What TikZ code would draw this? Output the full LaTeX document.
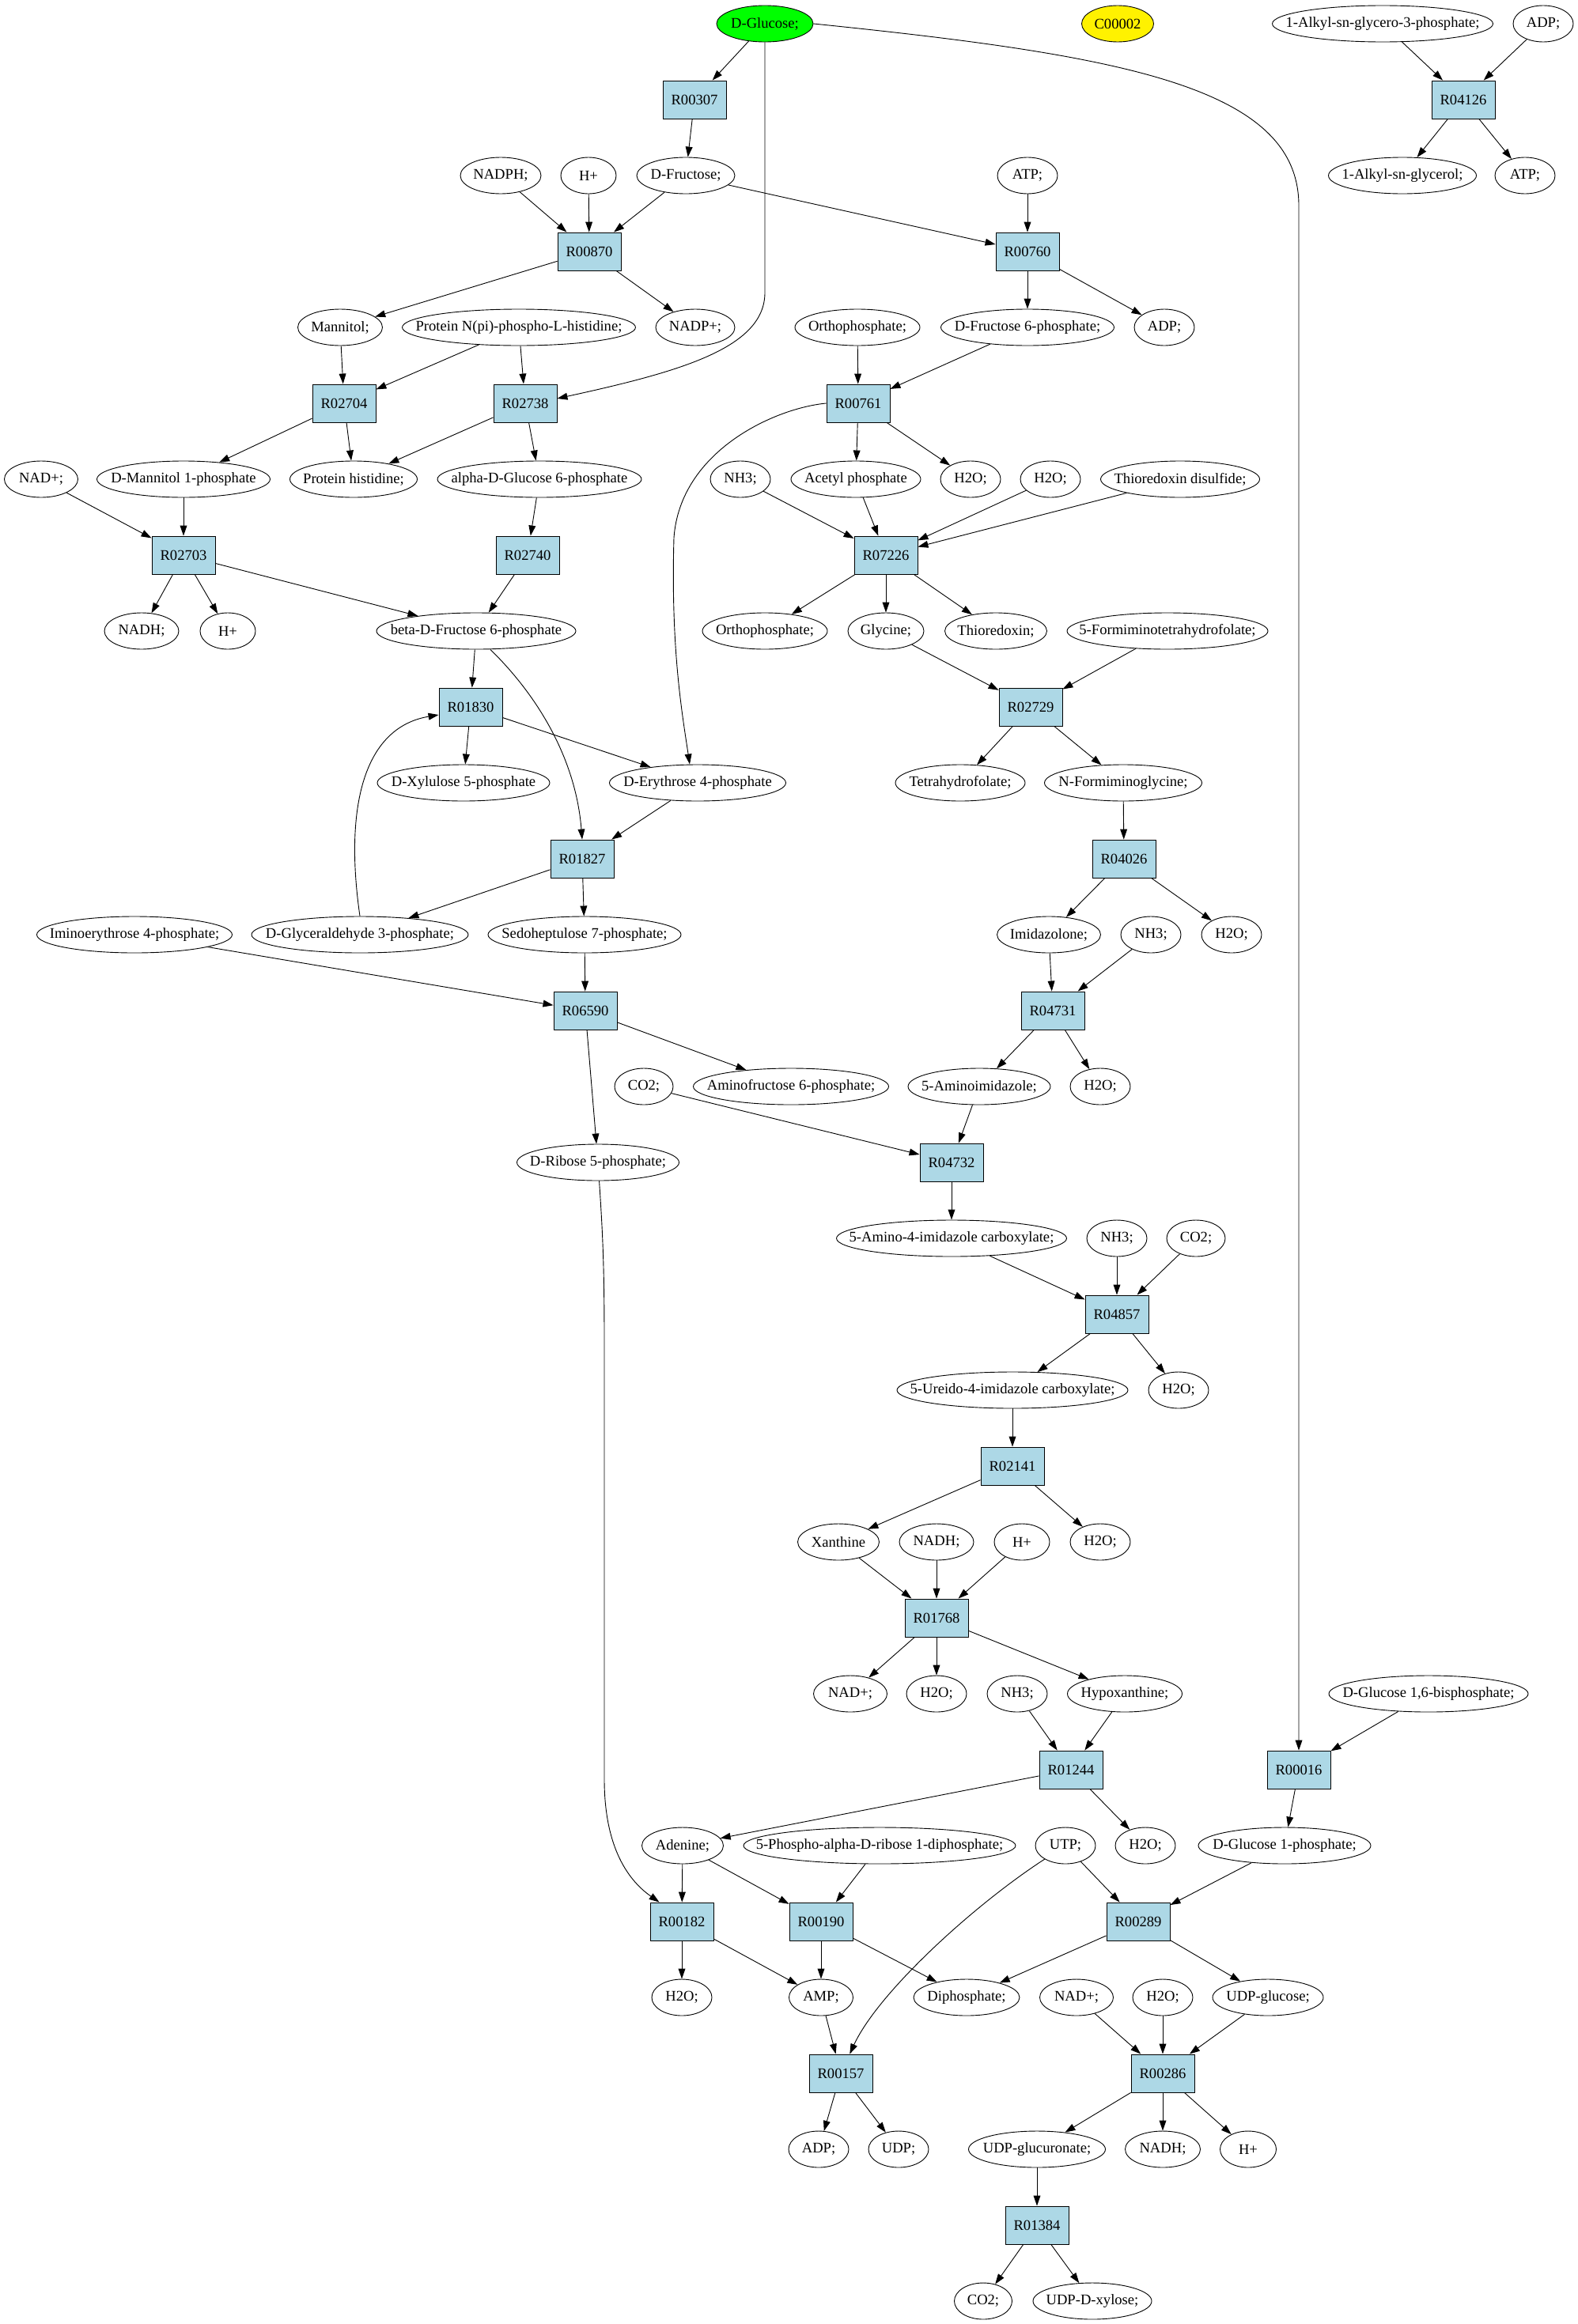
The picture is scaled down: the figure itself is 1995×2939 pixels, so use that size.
\documentclass[tikz,border=0pt]{standalone}
\usepackage{fontspec}
\setmainfont{Liberation Serif}
\usetikzlibrary{arrows.meta, shapes.geometric}
\definecolor{reactblue}{HTML}{ADD8E6}
\tikzset{%
	reaction/.style={
		rectangle,
		draw,
		fill=reactblue,
		minimum width=40pt,
		minimum height=24pt,
		inner sep=0pt
	},
	compound/.style={
		ellipse,
		draw,
		inner sep=0pt,
		minimum height=23pt,
		minimum width=#1,
		execute at begin node={\hbox to 0pt\bgroup\hss},
		execute at end node={\hss\egroup}
	},
	compound/.default=38pt,
	link/.style={-{Triangle[length=6.5pt,width=4.4pt]}},
}
\begin{document}
\begin{tikzpicture}[x=0.5pt, y=-0.5pt, line width=0.45pt, font=\fontsize{9.3}{11.2}\selectfont]
			\useasboundingbox (0,0) rectangle (1995,2939);
			
			% Draw the upper part: glucose, fructose and the alkyl reaction
			\node[compound=61pt, fill=green] (glc) at (967,30) {D-Glucose;};
			\node[compound=45.5pt, fill=yellow] (c00002) at (1413,30) {C00002};
			\node[compound=139.5pt] (alkg3p) at (1748,30) {1-Alkyl-sn-glycero-3-phosphate;};
			\node[compound] (adpa) at (1951,30) {ADP;};
			
			\node[reaction] (r00307) at (878,126) {R00307};
			\node[reaction] (r04126) at (1850,126) {R04126};
			
			\node[compound=51pt] (nadpha) at (633,222) {NADPH;};
			\node[compound=35pt] (hpa) at (744,222) {H+};
			\node[compound=62pt] (fru) at (867,222) {D-Fructose;};
			\node[compound] (atpa) at (1299,222) {ATP;};
			\node[compound=93.5pt] (alkgl) at (1773,222) {1-Alkyl-sn-glycerol;};
			\node[compound] (atpb) at (1928,222) {ATP;};
			
			\node[reaction] (r00870) at (745,318) {R00870};
			\node[reaction] (r00760) at (1299,318) {R00760};
			
			\node[compound=53.5pt] (mannitol) at (430,414) {Mannitol;};
			\node[compound=147.5pt] (protnph) at (656,414) {Protein N(pi)-phospho-L-histidine;};
			\node[compound=50pt] (nadp) at (879,414) {NADP+;};
			\node[compound=79pt] (ortha) at (1084,414) {Orthophosphate;};
			\node[compound=109.5pt] (f6p) at (1299,414) {D-Fructose 6-phosphate;};
			\node[compound] (adpb) at (1472,414) {ADP;};
			
			\node[reaction] (r02704) at (435,510) {R02704};
			\node[reaction] (r02738) at (664,510) {R02738};
			\node[reaction] (r00761) at (1085,510) {R00761};
			
			\node[compound=46.5pt] (nada) at (52,606) {NAD+;};
			\node[compound=109.5pt] (man1p) at (232,606) {D-Mannitol 1-phosphate};
			\node[compound=80.5pt] (prothis) at (447,606) {Protein histidine;};
			\node[compound=129pt] (ag6p) at (682,606) {alpha-D-Glucose 6-phosphate};
			\node[compound] (nh3a) at (936,606) {NH3;};
			\node[compound=82pt] (acp) at (1082,606) {Acetyl phosphate};
			\node[compound] (h2oa) at (1227,606) {H2O;};
			\node[compound] (h2ob) at (1328,606) {H2O;};
			\node[compound=100.5pt] (trxss) at (1492,606) {Thioredoxin disulfide;};
			
			\node[reaction] (r02703) at (232,702) {R02703};
			\node[reaction] (r02740) at (667,702) {R02740};
			\node[reaction] (r07226) at (1120,702) {R07226};
			
			% Draw the pentose phosphate part and the glycine part
			\node[compound=47pt] (nadha) at (179,798) {NADH;};
			\node[compound=35pt] (hpb) at (288,798) {H+};
			\node[compound=126pt] (bf6p) at (602,798) {beta-D-Fructose 6-phosphate};
			\node[compound=79pt] (orthb) at (967,798) {Orthophosphate;};
			\node[compound=48pt] (gly) at (1120,798) {Glycine;};
			\node[compound=64.5pt] (trx) at (1259,798) {Thioredoxin;};
			\node[compound=127pt] (fthf) at (1476,798) {5-Formiminotetrahydrofolate;};
			
			\node[reaction] (r01830) at (595,894) {R01830};
			\node[reaction] (r02729) at (1303,894) {R02729};
			
			\node[compound=109pt] (xu5p) at (586,990) {D-Xylulose 5-phosphate};
			\node[compound=111.5pt] (e4p) at (882,990) {D-Erythrose 4-phosphate};
			\node[compound=82pt] (thf) at (1214,990) {Tetrahydrofolate;};
			\node[compound=99.5pt] (forgly) at (1420,990) {N-Formiminoglycine;};
			
			\node[reaction] (r01827) at (736,1086) {R01827};
			\node[reaction] (r04026) at (1421,1086) {R04026};
			
			\node[compound=123.5pt] (imine4p) at (170,1182) {Iminoerythrose 4-phosphate;};
			\node[compound=137pt] (gap) at (455,1182) {D-Glyceraldehyde 3-phosphate;};
			\node[compound=122pt] (s7p) at (739,1182) {Sedoheptulose 7-phosphate;};
			\node[compound=65.5pt] (imid) at (1326,1182) {Imidazolone;};
			\node[compound] (nh3b) at (1455,1182) {NH3;};
			\node[compound] (h2oc) at (1557,1182) {H2O;};
			
			\node[reaction] (r06590) at (740,1278) {R06590};
			\node[reaction] (r04731) at (1331,1278) {R04731};
			
			\node[compound=37pt] (co2a) at (814,1374) {CO2;};
			\node[compound=123.5pt] (amf6p) at (1000,1374) {Aminofructose 6-phosphate;};
			\node[compound=90pt] (aimid) at (1238,1374) {5-Aminoimidazole;};
			\node[compound] (h2od) at (1391,1374) {H2O;};
			
			\node[compound=102.5pt] (r5p) at (756,1470) {D-Ribose 5-phosphate;};
			\node[reaction] (r04732) at (1203,1470) {R04732};
			
			% Draw the imidazole and purine part
			\node[compound=145.5pt] (aicx) at (1203,1566) {5-Amino-4-imidazole carboxylate;};
			\node[compound] (nh3c) at (1412,1566) {NH3;};
			\node[compound=37pt] (co2b) at (1512,1566) {CO2;};
			
			\node[reaction] (r04857) at (1412,1662) {R04857};
			
			\node[compound=146pt] (uicx) at (1280,1758) {5-Ureido-4-imidazole carboxylate;};
			\node[compound] (h2oe) at (1490,1758) {H2O;};
			
			\node[reaction] (r02141) at (1280,1854) {R02141};
			
			\node[compound=51.5pt] (xan) at (1060,1950) {Xanthine};
			\node[compound=47pt] (nadhb) at (1184,1950) {NADH;};
			\node[compound=35pt] (hpc) at (1292,1950) {H+};
			\node[compound] (h2of) at (1391,1950) {H2O;};
			
			\node[reaction] (r01768) at (1184,2046) {R01768};
			
			\node[compound=46.5pt] (nadb) at (1075,2142) {NAD+;};
			\node[compound] (h2og) at (1184,2142) {H2O;};
			\node[compound] (nh3d) at (1286,2142) {NH3;};
			\node[compound=72.5pt] (hyp) at (1422,2142) {Hypoxanthine;};
			\node[compound=126pt] (g16bp) at (1806,2142) {D-Glucose 1,6-bisphosphate;};
			
			\node[reaction] (r01244) at (1354,2238) {R01244};
			\node[reaction] (r00016) at (1642,2238) {R00016};
			
			% Draw the lower part: nucleotides and UDP sugars
			\node[compound=51.5pt] (ade) at (863,2334) {Adenine;};
			\node[compound=172pt] (prpp) at (1112,2334) {5-Phospho-alpha-D-ribose 1-diphosphate;};
			\node[compound] (utp) at (1347,2334) {UTP;};
			\node[compound] (h2oh) at (1448,2334) {H2O;};
			\node[compound=109pt] (g1p) at (1624,2334) {D-Glucose 1-phosphate;};
			
			\node[reaction] (r00182) at (862,2430) {R00182};
			\node[reaction] (r00190) at (1038,2430) {R00190};
			\node[reaction] (r00289) at (1439,2430) {R00289};
			
			\node[compound] (h2oi) at (862,2526) {H2O;};
			\node[compound=40.5pt] (amp) at (1038,2526) {AMP;};
			\node[compound=67pt] (ppi) at (1222,2526) {Diphosphate;};
			\node[compound=46.5pt] (nadc) at (1361,2526) {NAD+;};
			\node[compound] (h2oj) at (1470,2526) {H2O;};
			\node[compound=70pt] (udpglc) at (1603,2526) {UDP-glucose;};
			
			\node[reaction] (r00157) at (1063,2622) {R00157};
			\node[reaction] (r00286) at (1470,2622) {R00286};
			
			\node[compound] (adpc) at (1035,2718) {ADP;};
			\node[compound] (udp) at (1136,2718) {UDP;};
			\node[compound=86.5pt] (udpgla) at (1311,2718) {UDP-glucuronate;};
			\node[compound=47.5pt] (nadhc) at (1470,2718) {NADH;};
			\node[compound=35.5pt] (hpd) at (1578,2718) {H+};
			
			\node[reaction] (r01384) at (1311,2814) {R01384};
			
			\node[compound=36.5pt] (co2c) at (1243,2910) {CO2;};
			\node[compound=75pt] (udpxyl) at (1381,2910) {UDP-D-xylose;};
			
			% Draw the long arrows from D-Glucose
			\draw[link] (glc) -- (r00307);
			\draw[link] (glc.south) -- (967,370) .. controls (967,440) and (860,470) .. ([yshift=3pt]r02738.east);
			\draw[link] (glc.east) .. controls (1420,70) and (1642,110) .. (1642,260) -- (r00016);
			
			% Draw arrows of the upper reactions
			\draw[link] (r00307) -- (fru);
			\draw[link] (nadpha) -- (r00870);
			\draw[link] (hpa) -- (r00870);
			\draw[link] (fru) -- (r00870);
			\draw[link] (fru) -- (r00760);
			\draw[link] (atpa) -- (r00760);
			\draw[link] (r00870) -- (mannitol);
			\draw[link] (r00870) -- (nadp);
			\draw[link] (r00760) -- (f6p);
			\draw[link] (r00760) -- (adpb);
			\draw[link] (mannitol) -- (r02704);
			\draw[link] (protnph) -- (r02704);
			\draw[link] (protnph) -- (r02738);
			\draw[link] (f6p) -- (r00761);
			\draw[link] (ortha) -- (r00761);
			\draw[link] (r02704) -- (man1p);
			\draw[link] (r02704) -- (prothis);
			\draw[link] (r02738) -- (prothis);
			\draw[link] (r02738) -- (ag6p);
			\draw[link] (r00761) -- (acp);
			\draw[link] (r00761) -- (h2oa);
			\draw[link] (r00761.west) .. controls (980,516) and (860,570) .. (852,680) .. controls (848,820) and (862,900) .. ([xshift=-5pt]e4p.north);
			\draw[link] (nada) -- (r02703);
			\draw[link] (man1p) -- (r02703);
			\draw[link] (ag6p) -- (r02740);
			\draw[link] (nh3a) -- (r07226);
			\draw[link] (acp) -- (r07226);
			\draw[link] (h2ob) -- (r07226);
			\draw[link] (trxss) -- (r07226);
			\draw[link] (r02703) -- (nadha);
			\draw[link] (r02703) -- (hpb);
			\draw[link] (r02703) -- (bf6p);
			\draw[link] (r02740) -- (bf6p);
			\draw[link] (r07226) -- (orthb);
			\draw[link] (r07226) -- (gly);
			\draw[link] (r07226) -- (trx);
			
			% Arrows of the middle reactions
			\draw[link] (bf6p) -- (r01830);
			\draw[link] ([xshift=9pt]bf6p.south) .. controls (680,880) and (728,960) .. (r01827.north);
			\draw[link] (gly) -- (r02729);
			\draw[link] (fthf) -- (r02729);
			\draw[link] (r01830) -- (xu5p);
			\draw[link] (r01830) -- (e4p);
			\draw[link] (r02729) -- (thf);
			\draw[link] (r02729) -- (forgly);
			\draw[link] (e4p) -- (r01827);
			\draw[link] (forgly) -- (r04026);
			\draw[link] (r01827) -- (gap);
			\draw[link] (r01827) -- (s7p);
			\draw[link] (gap.north) .. controls (435,1020) and (460,920) .. ([yshift=-5pt]r01830.west);
			\draw[link] (r04026) -- (imid);
			\draw[link] (r04026) -- (h2oc);
			\draw[link] (imine4p) -- (r06590);
			\draw[link] (s7p) -- (r06590);
			\draw[link] (imid) -- (r04731);
			\draw[link] (nh3b) -- (r04731);
			\draw[link] (r06590) -- (amf6p);
			\draw[link] (r06590) -- (r5p);
			\draw[link] (r04731) -- (aimid);
			\draw[link] (r04731) -- (h2od);
			\draw[link] (co2a) -- (r04732);
			\draw[link] (aimid) -- (r04732);
			\draw[link] (r5p) .. controls (762,1560) and (764,1600) .. (764,1700) -- (764,2250) .. controls (764,2330) and (790,2375) .. ([xshift=6pt]r00182.north west);
			\draw[link] (r04732) -- (aicx);
			\draw[link] (aicx) -- (r04857);
			\draw[link] (nh3c) -- (r04857);
			\draw[link] (co2b) -- (r04857);
			\draw[link] (r04857) -- (uicx);
			\draw[link] (r04857) -- (h2oe);
			\draw[link] (uicx) -- (r02141);
			\draw[link] (r02141) -- (xan);
			\draw[link] (r02141) -- (h2of);
			\draw[link] (xan) -- (r01768);
			\draw[link] (nadhb) -- (r01768);
			\draw[link] (hpc) -- (r01768);
			\draw[link] (r01768) -- (nadb);
			\draw[link] (r01768) -- (h2og);
			\draw[link] (r01768) -- (hyp);
			\draw[link] (nh3d) -- (r01244);
			\draw[link] (hyp) -- (r01244);
			
			% Arrows of the lower reactions
			\draw[link] (r01244) -- (ade);
			\draw[link] (r01244) -- (h2oh);
			\draw[link] (g16bp) -- (r00016);
			\draw[link] (r00016) -- (g1p);
			\draw[link] (ade) -- (r00182);
			\draw[link] (ade) -- (r00190);
			\draw[link] (prpp) -- (r00190);
			\draw[link] (utp) -- (r00289);
			\draw[link] (utp) .. controls (1230,2410) and (1110,2520) .. (r00157);
			\draw[link] (g1p) -- (r00289);
			\draw[link] (r00182) -- (h2oi);
			\draw[link] (r00182) -- (amp);
			\draw[link] (r00190) -- (amp);
			\draw[link] (r00190) -- (ppi);
			\draw[link] (r00289) -- (ppi);
			\draw[link] (r00289) -- (udpglc);
			\draw[link] (amp) -- (r00157);
			\draw[link] (nadc) -- (r00286);
			\draw[link] (h2oj) -- (r00286);
			\draw[link] (udpglc) -- (r00286);
			\draw[link] (r00157) -- (adpc);
			\draw[link] (r00157) -- (udp);
			\draw[link] (r00286) -- (udpgla);
			\draw[link] (r00286) -- (nadhc);
			\draw[link] (r00286) -- (hpd);
			\draw[link] (udpgla) -- (r01384);
			\draw[link] (r01384) -- (co2c);
			\draw[link] (r01384) -- (udpxyl);
			
			% Arrows of the alkyl reaction
			\draw[link] (alkg3p) -- (r04126);
			\draw[link] (adpa) -- (r04126);
			\draw[link] (r04126) -- (alkgl);
			\draw[link] (r04126) -- (atpb);
			
		\end{tikzpicture}
\end{document}
